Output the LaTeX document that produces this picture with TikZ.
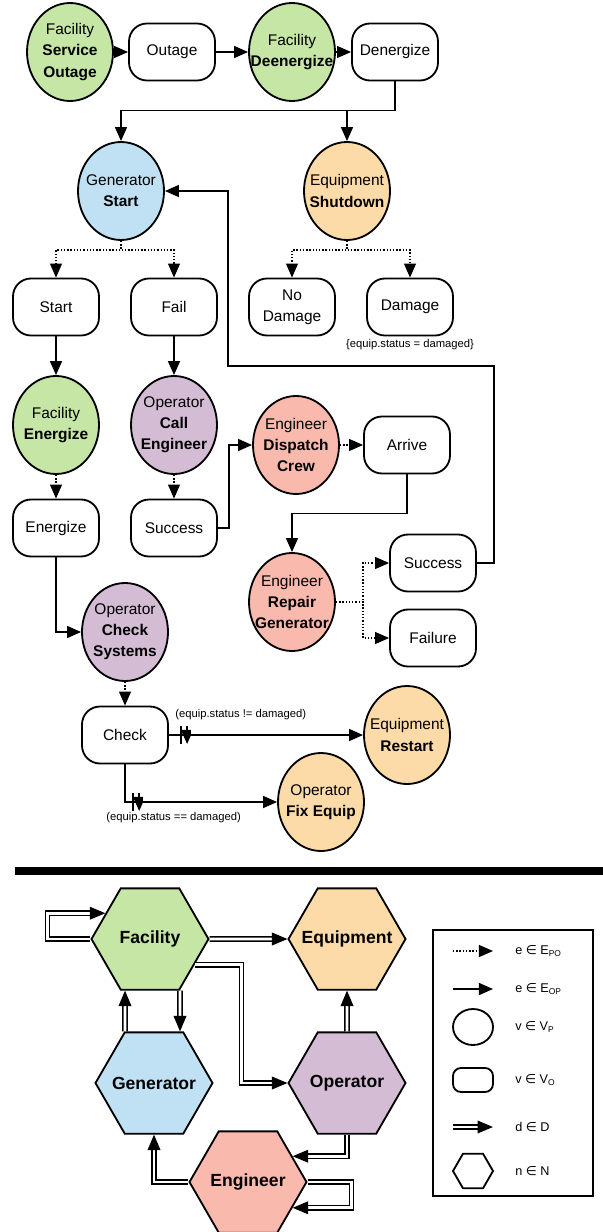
\documentclass[tikz,border=0pt]{standalone}
\usepackage{fontspec}
\setmainfont{Liberation Sans}
\newfontfamily\symfont{DejaVu Sans}
\usepackage{xcolor}
\usepackage{tikz}
\usetikzlibrary{shapes,arrows.meta}
\definecolor{facgreen}{HTML}{C5E6A5}
\definecolor{genblue}{HTML}{C0E1F4}
\definecolor{equiporange}{HTML}{FDDBA8}
\definecolor{oppurple}{HTML}{D3BCD4}
\definecolor{engred}{HTML}{FAB9AD}
\tikzstyle{process} = [ellipse, draw, line width=1.3pt, minimum width=2.15cm,
    minimum height=2.45cm, inner sep=-0.6cm, align=center, font=\fontsize{11}{15}\selectfont]
\tikzstyle{outcome} = [rectangle, draw, line width=1.3pt, rounded corners=0.45cm, fill=white,
    minimum width=2.15cm, minimum height=1.425cm, align=center, font=\fontsize{11}{15}\selectfont]
\tikzstyle{agent} = [regular polygon, regular polygon sides=6, draw, line width=1.3pt,
    minimum size=2.925cm, inner sep=-0.6cm, font=\fontsize{12.5}{15}\selectfont\bfseries]
\tikzstyle{note} = [inner sep=0pt, font=\fontsize{8}{10}\selectfont]
\tikzstyle{legendtext} = [anchor=west, inner sep=0pt, font=\fontsize{9}{11}\selectfont]
\tikzstyle{arrow} = [draw, -{Triangle[length=10pt,width=8.5pt]}, line width=1.3pt]
\tikzstyle{dotarrow} = [draw, -{Triangle[length=10pt,width=8.5pt]}, line width=1pt,
    dash pattern=on 1pt off 1.3pt]
\tikzstyle{dblarrow} = [draw, double, double distance=2pt, line width=1pt,
    -{Triangle[length=11pt,width=9pt]}]
\tikzstyle{bars} = [inner sep=0pt, minimum width=0.35cm, minimum height=0.45cm,
    path picture={\draw[line width=1.3pt] ([xshift=-2.3pt]path picture bounding box.north) -- ([xshift=-2.3pt]path picture bounding box.south)
    ([xshift=2.3pt]path picture bounding box.north) -- ([xshift=2.3pt]path picture bounding box.south);}]

\begin{document}
\begin{tikzpicture}
    \path [fill=white] (0,0) rectangle (15.075,-30.8);
    \useasboundingbox (0,0) rectangle (15.075,-30.8);
    % Place nodes
    \node [process, fill=facgreen] (serviceOutage) at (1.75,-1.3) {Facility\\\textbf{Service}\\\textbf{Outage}};
    \node [outcome, right of=serviceOutage, node distance=2.55cm] (outage) {Outage};
    \node [process, fill=facgreen, right of=outage, node distance=3cm] (deenergize) {Facility\\\textbf{Deenergize}};
    \node [outcome, right of=deenergize, node distance=2.575cm] (denergize) {Denergize};
    \node [process, fill=genblue] (genStart) at (3.025,-4.775) {Generator\\\textbf{Start}};
    \node [process, fill=equiporange, right of=genStart, node distance=5.65cm] (shutdown) {Equipment\\\textbf{Shutdown}};
    \node [outcome] (start) at (1.4,-7.675) {Start};
    \node [outcome, right of=start, node distance=2.95cm] (fail) {Fail};
    \node [outcome] (noDamage) at (7.3,-7.675) {No\\Damage};
    \node [outcome, right of=noDamage, node distance=2.95cm] (damage) {Damage};
    \node [note, below of=damage, node distance=0.95cm] (damageNote) {\{equip.status = damaged\}};
    \node [process, fill=facgreen, below of=start, node distance=2.95cm] (energizeF) {Facility\\\textbf{Energize}};
    \node [process, fill=oppurple, below of=fail, node distance=2.95cm] (callEngineer) {Operator\\\textbf{Call}\\\textbf{Engineer}};
    \node [process, fill=engred] (dispatch) at (7.4,-11.125) {Engineer\\\textbf{Dispatch}\\\textbf{Crew}};
    \node [outcome, right of=dispatch, node distance=2.775cm] (arrive) {Arrive};
    \node [outcome, below of=energizeF, node distance=2.575cm] (energize) {Energize};
    \node [outcome, below of=callEngineer, node distance=2.575cm] (success) {Success};
    \node [process, fill=engred] (repair) at (7.3,-15.05) {Engineer\\\textbf{Repair}\\\textbf{Generator}};
    \node [outcome] (repairOk) at (10.825,-14.075) {Success};
    \node [outcome, below of=repairOk, node distance=1.875cm] (repairFail) {Failure};
    \node [process, fill=oppurple] (checkSystems) at (3.125,-15.8) {Operator\\\textbf{Check}\\\textbf{Systems}};
    \node [outcome, below of=checkSystems, node distance=2.575cm] (check) {Check};
    \node [process, fill=equiporange, right of=check, node distance=7.05cm] (restart) {Equipment\\\textbf{Restart}};
    \node [process, fill=equiporange] (fixEquip) at (8.025,-20.05) {Operator\\\textbf{Fix Equip}};
    \coordinate (loopBend) at (5.7,-9.15);

    % Connect nodes
    \path [dotarrow] (serviceOutage) -- (outage);
    \path [arrow] (outage) -- (deenergize);
    \path [dotarrow] (deenergize) -- (denergize);
    \path [arrow] (denergize.south) -- ++(0,-0.725) -| (genStart.north);
    \path [arrow] (denergize.south) -- ++(0,-0.725) -| (shutdown.north);
    \path [dotarrow] (genStart.south) -- ++(0,-0.225) -| (start.north);
    \path [dotarrow] (genStart.south) -- ++(0,-0.225) -| (fail.north);
    \path [dotarrow] (shutdown.south) -- ++(0,-0.225) -| (noDamage.north);
    \path [dotarrow] (shutdown.south) -- ++(0,-0.225) -| (damage.north);
    \path [arrow] (start) -- (energizeF);
    \path [arrow] (fail) -- (callEngineer);
    \path [dotarrow] (energizeF) -- (energize);
    \path [dotarrow] (callEngineer) -- (success);
    \path [arrow] (success.east) -- ++(0.275,0) |- (dispatch.west);
    \path [dotarrow] (dispatch) -- (arrive);
    \path [arrow] (arrive.south) -- ++(0,-0.975) -| (repair.north);
    \path [dotarrow] (repair.east) -- ++(0.675,0) |- (repairOk.west);
    \path [dotarrow] (repair.east) -- ++(0.675,0) |- (repairFail.west);
    \path [arrow] (repairOk.east) -- ++(0.425,0) |- (loopBend) |- (genStart.east);
    \path [arrow] (energize.south) |- (checkSystems.west);
    \path [dotarrow] (checkSystems) -- (check);
    \path [arrow] (check) -- node [bars, pos=0.077] {} node [note, pos=0.37, yshift=0.5cm] {(equip.status != damaged)} (restart);
    \path [arrow] (check.south) |- node [bars, pos=0.536] {} node [note, pos=0.66, yshift=-0.4cm] {(equip.status == damaged)} (fixEquip.west);

    \draw [line width=0.2cm] (0.375,-21.775) -- (15.075,-21.775);

    % Dependency graph
    \node [agent, fill=facgreen] (facilityN) at (3.75,-23.475) {Facility};
    \node [agent, fill=equiporange, right of=facilityN, node distance=4.925cm] (equipmentN) {Equipment};
    \node [agent, fill=genblue] (generatorN) at (3.85,-27.075) {Generator};
    \node [agent, fill=oppurple, below of=equipmentN, node distance=3.6cm] (operatorN) {Operator};
    \node [agent, fill=engred] (engineerN) at (6.2,-29.55) {Engineer};

    \path [dblarrow] (facilityN.west) -- ++(-1.075,0) |- (facilityN.150);
    \path [dblarrow] (facilityN) -- (equipmentN);
    \path [dblarrow] (facilityN.-30) -- ++(1.175,0) |- (operatorN.west);
    \path [dblarrow] ([xshift=0.75cm]facilityN.south) -- ([xshift=0.65cm]generatorN.north);
    \path [dblarrow] ([xshift=-0.725cm]generatorN.north) -- ([xshift=-0.625cm]facilityN.south);
    \path [dblarrow] (operatorN) -- (equipmentN);
    \path [dblarrow] (operatorN.south) |- (engineerN.30);
    \path [dblarrow] (engineerN.west) -| (generatorN.south);
    \path [dblarrow] (engineerN.east) -- ++(1.1,0) |- (engineerN.-30);

    % Legend
    \draw [line width=1pt] (10.825,-23.25) rectangle (14.825,-29.9);
    \coordinate (keyPO) at (11.325,-23.775);
    \coordinate (keyOP) at (11.325,-24.725);
    \coordinate (keyD) at (11.325,-28.175);
    \path [dotarrow] (keyPO) -- ++(1,0);
    \path [arrow] (keyOP) -- ++(1,0);
    \node [draw, ellipse, line width=1.3pt, minimum width=1cm, minimum height=0.9cm] (keyVP) at (11.825,-25.675) {};
    \node [draw, rounded corners=0.2cm, line width=1.3pt, minimum width=1cm, minimum height=0.6cm] (keyVO) at (11.825,-27) {};
    \path [dblarrow] (keyD) -- ++(1,0);
    \node [draw, regular polygon, regular polygon sides=6, line width=1.3pt, minimum size=1cm] (keyN) at (11.825,-29.275) {};
    \node [legendtext] at (12.875,-23.775) {e {\symfont∈} E\textsubscript{PO}};
    \node [legendtext] at (12.875,-24.725) {e {\symfont∈} E\textsubscript{OP}};
    \node [legendtext] at (12.875,-25.675) {v {\symfont∈} V\textsubscript{P}};
    \node [legendtext] at (12.875,-27) {v {\symfont∈} V\textsubscript{O}};
    \node [legendtext] at (12.875,-28.175) {d {\symfont∈} D};
    \node [legendtext] at (12.875,-29.275) {n {\symfont∈} N};
\end{tikzpicture}
\end{document}
